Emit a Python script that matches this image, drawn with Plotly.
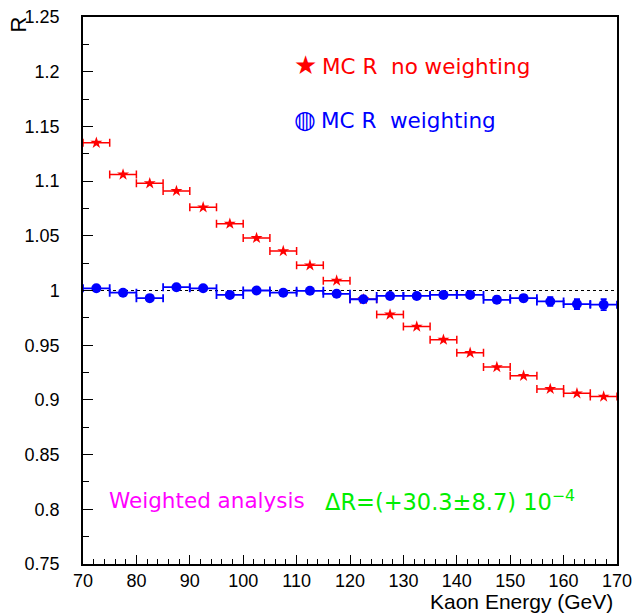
import plotly.graph_objects as go

# ---- data ----
energy = [72.5, 77.5, 82.5, 87.5, 92.5, 97.5, 102.5, 107.5, 112.5, 117.5,
          122.5, 127.5, 132.5, 137.5, 142.5, 147.5, 152.5, 157.5, 162.5, 167.5]
bin_half = [2.5] * 20

r_noweight = [1.135, 1.106, 1.098, 1.091, 1.076, 1.061, 1.048, 1.036, 1.023, 1.009,
              0.992, 0.978, 0.967, 0.955, 0.943, 0.930, 0.922, 0.910, 0.906, 0.903]
r_noweight_err = [0.001] * 20

r_weight = [1.002, 0.998, 0.993, 1.003, 1.002, 0.996, 1.000, 0.998, 0.9997, 0.997,
            0.992, 0.995, 0.995, 0.996, 0.996, 0.9915, 0.993, 0.990, 0.9876, 0.987]
r_weight_err = [0.001, 0.001, 0.001, 0.001, 0.001, 0.0015, 0.0015, 0.0015, 0.002, 0.002,
                0.002, 0.002, 0.002, 0.0025, 0.0025, 0.003, 0.003, 0.004, 0.0045, 0.005]

x_range = [70, 170]
y_range = [0.75, 1.25]

fig = go.Figure()

fig.add_shape(type="line", x0=x_range[0], x1=x_range[1], y0=1, y1=1,
              line=dict(color="black", width=1, dash="3px,3px"), layer="below")

fig.add_trace(go.Scatter(
    x=energy, y=r_noweight, mode="markers",
    marker=dict(symbol="star", color="red", size=9, line=dict(width=0)),
    error_x=dict(type="data", array=bin_half, color="red", thickness=1.5, width=4),
    error_y=dict(type="data", array=r_noweight_err, color="red", thickness=1.5, width=0),
    showlegend=False))

fig.add_trace(go.Scatter(
    x=energy, y=r_weight, mode="markers",
    marker=dict(symbol="circle", color="blue", size=10, line=dict(width=0)),
    error_x=dict(type="data", array=bin_half, color="blue", thickness=1.8, width=4),
    error_y=dict(type="data", array=r_weight_err, color="blue", thickness=1.8, width=3),
    showlegend=False))

axis_common = dict(showline=True, linecolor="black", linewidth=1.5, mirror=True,
                   showgrid=False, zeroline=False, ticks="inside", tickcolor="black",
                   automargin=False,
                   tickfont=dict(family="Liberation Sans, Arial", size=18, color="black"))

fig.update_xaxes(range=x_range, dtick=10, tick0=70, ticklen=9, tickwidth=1,
                 ticklabelstandoff=0,
                 minor=dict(dtick=2, ticklen=5, ticks="inside", tickcolor="black"),
                 **axis_common)
fig.update_yaxes(range=y_range, dtick=0.05, tick0=0.75, ticklen=10, tickwidth=1,
                 ticklabelstandoff=18,
                 minor=dict(dtick=0.025, ticklen=6, ticks="inside", tickcolor="black"),
                 **axis_common)

txt_font = "DejaVu Sans"
fs = 21.5
annos = [
    dict(x=(615 - 83) / 534, y=-(601 - 564) / 547, xref="paper", yref="paper",
         text="Kaon Energy (GeV)", xanchor="right", yanchor="middle", showarrow=False,
         font=dict(family="Liberation Sans, Arial", size=21, color="black")),
    dict(x=(18.5 - 83) / 534, y=1 - (25 - 17) / 547, xref="paper", yref="paper", text="R",
         textangle=-90, xanchor="center", yanchor="middle", showarrow=False,
         font=dict(family="Liberation Sans, Arial", size=22, color="black")),
    dict(x=(305 - 83) / 534, y=1 - (65 - 17) / 547, xref="paper", yref="paper", text="★",
         xanchor="center", yanchor="middle", showarrow=False,
         font=dict(family="DejaVu Sans", size=26, color="red")),
    dict(x=(320 - 83) / 534, y=1 - (66 - 17) / 547, xref="paper", yref="paper",
         text="MC R  no weighting", xanchor="left", yanchor="middle", showarrow=False,
         font=dict(family=txt_font, size=fs, color="red")),
    dict(x=(305 - 83) / 534, y=1 - (119 - 17) / 547, xref="paper", yref="paper", text="◍",
         xanchor="center", yanchor="middle", showarrow=False,
         font=dict(family="DejaVu Sans", size=25, color="blue")),
    dict(x=(319 - 83) / 534, y=1 - (120 - 17) / 547, xref="paper", yref="paper",
         text="MC R  weighting", xanchor="left", yanchor="middle", showarrow=False,
         font=dict(family=txt_font, size=fs, color="blue")),
    dict(x=(107 - 83) / 534, y=1 - (500 - 17) / 547, xref="paper", yref="paper",
         text="Weighted analysis", xanchor="left", yanchor="middle", showarrow=False,
         font=dict(family=txt_font, size=fs, color="magenta")),
    dict(x=(323 - 83) / 534, y=1 - (500 - 17) / 547, xref="paper", yref="paper",
         text="ΔR=(+30.3±8.7) 10<sup>−4</sup>", xanchor="left", yanchor="middle",
         showarrow=False, font=dict(family=txt_font, size=22.5, color="#00ee00")),
]

fig.update_layout(width=634, height=613, margin=dict(l=83, r=17, t=17, b=49),
                  paper_bgcolor="white", plot_bgcolor="white", annotations=annos)

fig.write_html("out.html")
